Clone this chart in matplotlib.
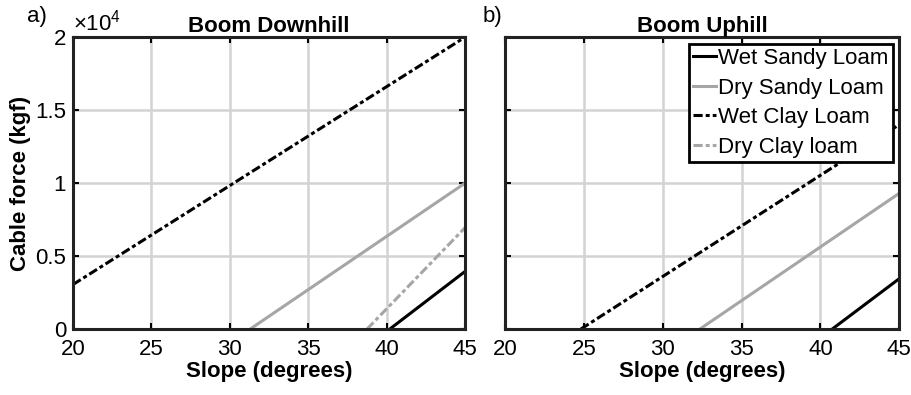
import matplotlib
matplotlib.use("Agg")
import matplotlib.pyplot as plt
from matplotlib.ticker import FuncFormatter

plt.rcParams['font.family'] = ['Liberation Sans', 'DejaVu Sans']
plt.rcParams['mathtext.fontset'] = 'custom'
plt.rcParams['mathtext.rm'] = 'Liberation Sans'

names = ["Wet Sandy Loam", "Dry Sandy Loam", "Wet Clay Loam", "Dry Clay loam"]
colors = ["black", "#a6a6a6", "black", "#a6a6a6"]
dashdot = (0, (3.0, 1.0, 1.3, 1.0))
styles = ["-", "-", dashdot, dashdot]

# (slope, force) end points
down_x = [[40.2, 45], [31.3, 45], [20, 45], [38.75, 45]]
down_y = [[0, 3950], [0, 10000], [3050, 20000], [0, 6950]]

up_x = [[40.75, 45], [32.35, 45], [24.8, 45], [45, 45]]
up_y = [[0, 3450], [0, 9300], [0, 14000], [-100, -100]]

xticks = [20, 25, 30, 35, 40, 45]
yticks = [0, 5000, 10000, 15000, 20000]

fig = plt.figure(figsize=(9.12, 3.95), dpi=100)
axa = fig.add_axes([0.080, 0.167, 0.430, 0.739])
axb = fig.add_axes([0.554, 0.167, 0.432, 0.739])


def style_axes(ax, title, show_y):
    ax.set_xlim(20, 45)
    ax.set_ylim(0, 20000)
    ax.set_xticks(xticks)
    ax.set_yticks(yticks)
    ax.grid(True, color="#d3d3d3", linewidth=1.8)
    ax.set_axisbelow(True)
    ax.tick_params(direction="in", length=4, width=1.5, labelsize=16,
                   top=True, right=True, colors="black")
    ax.tick_params(axis="x", pad=7)
    ax.tick_params(axis="y", pad=5)
    for s in ax.spines.values():
        s.set_linewidth(2.2)
        s.set_color("#222222")
    ax.set_title(title, fontsize=16, fontweight="bold", pad=4)
    ax.set_xlabel("Slope (degrees)", fontsize=16, fontweight="bold", labelpad=1)
    if show_y:
        ax.yaxis.set_major_formatter(FuncFormatter(lambda v, p: "%g" % (v / 1e4)))
        ax.set_ylabel("Cable force (kgf)", fontsize=16, fontweight="bold", labelpad=3)
        ax.text(0.0, 1.005, r"$\times10^4$", transform=ax.transAxes, fontsize=16,
                ha="left", va="bottom")
    else:
        ax.set_yticklabels([])


for i in range(4):
    axa.plot(down_x[i], down_y[i], color=colors[i], linestyle=styles[i],
             linewidth=2.2, label=names[i])
    axb.plot(up_x[i], up_y[i], color=colors[i], linestyle=styles[i],
             linewidth=2.2, label=names[i])

style_axes(axa, "Boom Downhill", True)
style_axes(axb, "Boom Uphill", False)

leg = axb.legend(loc="upper right", fontsize=16, frameon=True, fancybox=False,
                 handlelength=1.0, handletextpad=0.1, borderpad=0.2,
                 labelspacing=0.38, borderaxespad=0.3)
leg.get_frame().set_edgecolor("black")
leg.get_frame().set_linewidth(2.0)
leg.get_frame().set_alpha(1)

fig.text(0.030, 0.945, "a)", fontsize=16)
fig.text(0.529, 0.945, "b)", fontsize=16)

fig.savefig("out.png", dpi=100)
